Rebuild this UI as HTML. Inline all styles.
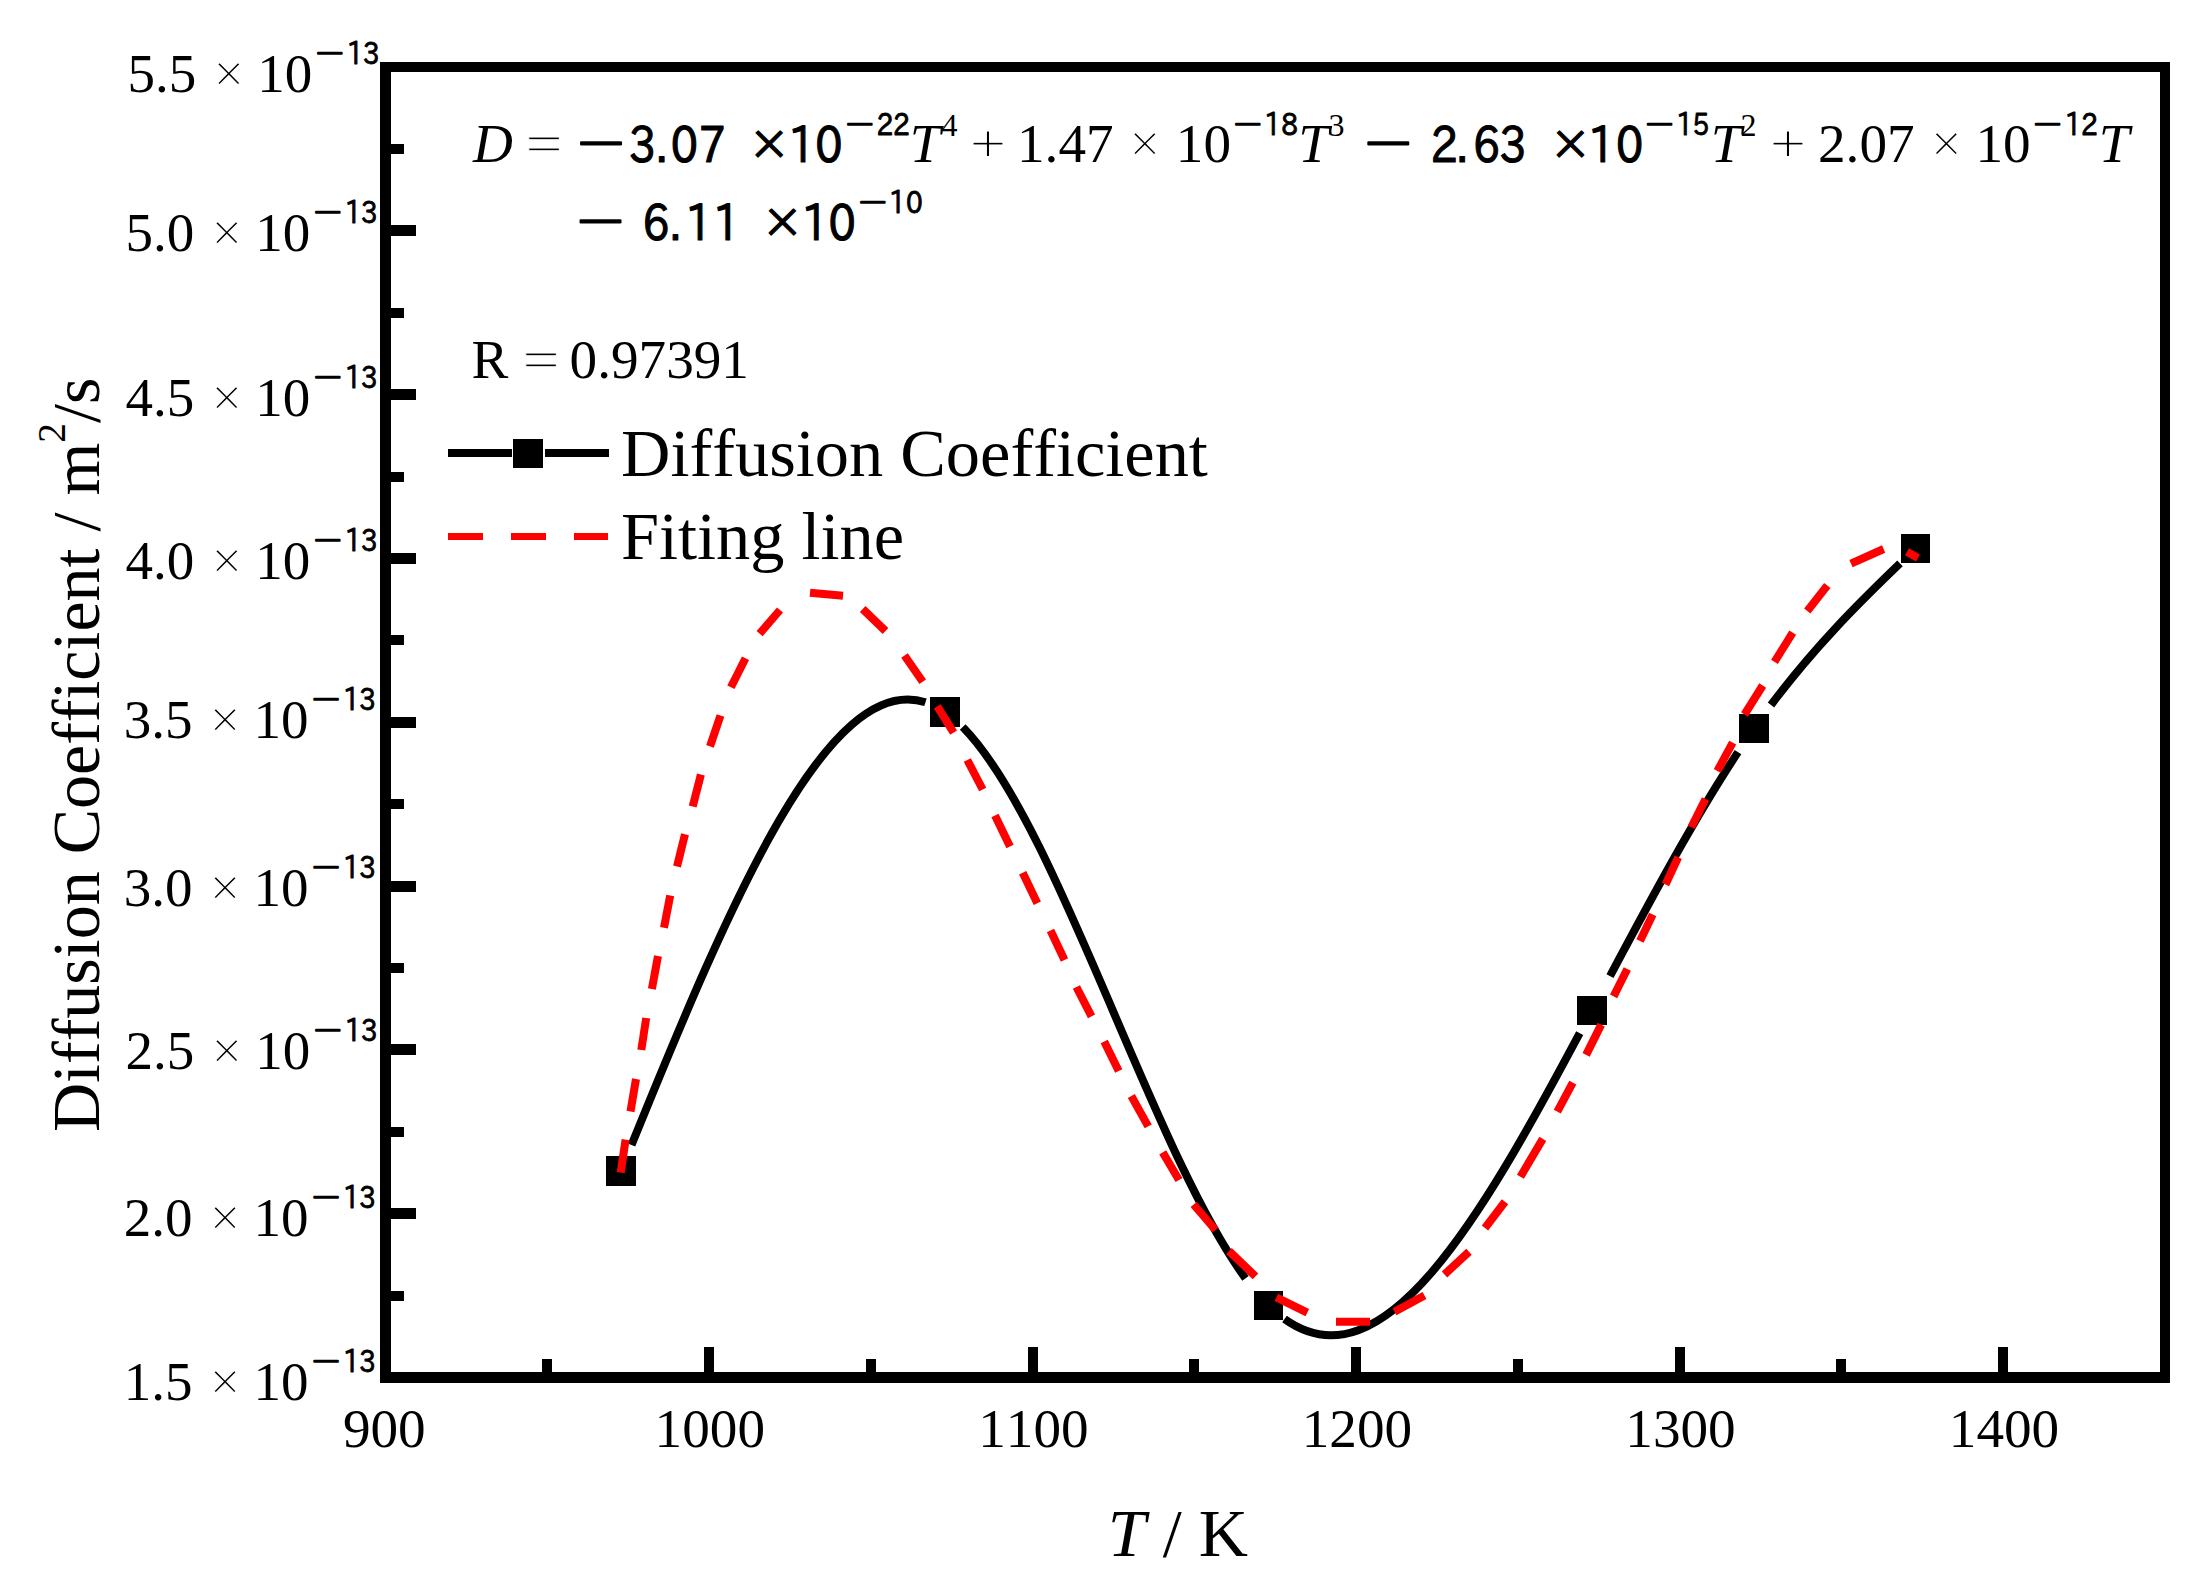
<!DOCTYPE html>
<html lang="en"><head><meta charset="utf-8"><title>Diffusion Coefficient vs T</title>
<style>
html,body{margin:0;padding:0;background:#fff;}
svg{display:block;}
text{white-space:pre;font-variant-ligatures:none;font-kerning:none;}
</style></head>
<body>
<svg width="2200" height="1584" viewBox="0 0 2200 1584">
<rect width="2200" height="1584" fill="#fff"/>
<g fill="#000" shape-rendering="crispEdges">
<rect x="380" y="62" width="1790" height="10"/>
<rect x="380" y="1372" width="1790" height="11"/>
<rect x="380" y="62" width="11" height="1321"/>
<rect x="2160" y="62" width="10" height="1321"/>
<rect x="391" y="1291" width="13" height="10"/>
<rect x="391" y="1208" width="25" height="11"/>
<rect x="391" y="1127" width="13" height="10"/>
<rect x="391" y="1044" width="25" height="11"/>
<rect x="391" y="963" width="13" height="10"/>
<rect x="391" y="881" width="25" height="11"/>
<rect x="391" y="799" width="13" height="10"/>
<rect x="391" y="717" width="25" height="11"/>
<rect x="391" y="635" width="13" height="10"/>
<rect x="391" y="553" width="25" height="11"/>
<rect x="391" y="472" width="13" height="10"/>
<rect x="391" y="389" width="25" height="11"/>
<rect x="391" y="308" width="13" height="10"/>
<rect x="391" y="225" width="25" height="11"/>
<rect x="391" y="144" width="13" height="10"/>
<rect x="542" y="1359" width="10" height="13"/>
<rect x="704" y="1347" width="10" height="25"/>
<rect x="866" y="1359" width="10" height="13"/>
<rect x="1028" y="1347" width="10" height="25"/>
<rect x="1189" y="1359" width="10" height="13"/>
<rect x="1351" y="1347" width="10" height="25"/>
<rect x="1513" y="1359" width="10" height="13"/>
<rect x="1675" y="1347" width="10" height="25"/>
<rect x="1836" y="1359" width="10" height="13"/>
<rect x="1998" y="1347" width="10" height="25"/>
</g>
<g fill="none" stroke="#000" stroke-width="8" stroke-linecap="butt">
<path d="M631.5,1145.1 C729.5,903.7 827.5,671.3 925.5,702.3"/>
<path d="M962.7,727.0 C1057.0,822.3 1151.2,1149.7 1245.5,1278.3"/>
<path d="M1284.5,1319.1 C1382.9,1389.7 1481.3,1217.8 1579.7,1033.1"/>
<path d="M1610.0,976.1 C1652.7,895.8 1695.3,816.8 1738.0,752.1"/>
<path d="M1771.0,705.0 C1814.0,647.6 1857.0,604.7 1900.0,563.4"/>
</g>
<g fill="#000" shape-rendering="crispEdges">
<rect x="606" y="1156" width="30" height="30"/>
<rect x="930" y="697" width="30" height="30"/>
<rect x="1254" y="1291" width="29" height="29"/>
<rect x="1577" y="996" width="30" height="29"/>
<rect x="1739" y="714" width="30" height="29"/>
<rect x="1901" y="534" width="29" height="29"/>
</g>
<g stroke="#f00" stroke-width="8" fill="none">
<path d="M620.7,1172.7 L625.6,1139.7"/>
<path d="M630.5,1111.5 L636.0,1079.0"/>
<path d="M641.3,1050.0 L646.2,1018.0"/>
<path d="M651.9,989.0 L658.0,956.0"/>
<path d="M664.0,927.8 L670.2,895.4"/>
<path d="M677.0,866.5 L685.0,834.2"/>
<path d="M692.7,806.4 L700.9,774.5"/>
<path d="M710.0,746.4 L720.5,715.5"/>
<path d="M730.9,687.3 L745.5,658.2"/>
<path d="M759.6,633.6 L780.0,610.0"/>
<path d="M810.0,592.7 L843.0,595.8"/>
<path d="M862.7,609.0 L885.5,631.0"/>
<path d="M904.5,655.5 L922.7,681.8"/>
<path d="M937.3,706.4 L953.6,732.7"/>
<path d="M967.3,760.0 L982.7,789.5"/>
<path d="M995.0,815.5 L1010.0,846.4"/>
<path d="M1022.7,872.7 L1037.3,903.3"/>
<path d="M1050.5,930.5 L1064.5,960.0"/>
<path d="M1076.4,987.0 L1091.5,1016.4"/>
<path d="M1104.2,1041.5 L1118.7,1071.0"/>
<path d="M1131.3,1096.0 L1148.2,1126.4"/>
<path d="M1162.7,1152.4 L1179.0,1180.0"/>
<path d="M1193.6,1204.5 L1215.5,1230.0"/>
<path d="M1229.0,1251.0 L1255.5,1276.4"/>
<path d="M1276.4,1297.3 L1307.3,1312.7"/>
<path d="M1336.0,1321.8 L1370.0,1321.8"/>
<path d="M1394.5,1311.8 L1424.5,1295.5"/>
<path d="M1444.5,1274.5 L1469.0,1251.8"/>
<path d="M1485.0,1228.0 L1505.0,1201.8"/>
<path d="M1520.4,1176.8 L1542.8,1138.9"/>
<path d="M1557.3,1111.7 L1572.8,1082.7"/>
<path d="M1586.1,1054.9 L1601.2,1024.6"/>
<path d="M1613.6,996.4 L1627.3,969.0"/>
<path d="M1640.0,941.0 L1652.7,914.5"/>
<path d="M1665.5,884.5 L1678.2,857.3"/>
<path d="M1691.3,827.3 L1705.5,799.0"/>
<path d="M1717.3,771.0 L1732.7,742.7"/>
<path d="M1744.5,714.5 L1762.7,685.5"/>
<path d="M1774.5,661.8 L1792.7,632.7"/>
<path d="M1807.3,611.0 L1827.3,585.5"/>
<path d="M1851.0,563.6 L1883.6,549.0"/>
<path d="M1907.0,551.8 L1918.0,558.0"/>
</g>
<g shape-rendering="crispEdges">
<rect x="448" y="449" width="64" height="8" fill="#000"/>
<rect x="545" y="449" width="64" height="8" fill="#000"/>
<rect x="513" y="439" width="30" height="29" fill="#000"/>
<rect x="448" y="533" width="35" height="7" fill="#f00"/>
<rect x="511" y="533" width="35" height="7" fill="#f00"/>
<rect x="574" y="533" width="34" height="7" fill="#f00"/>
</g>
<g font-family="'Liberation Serif', 'Times New Roman', serif" fill="#000">
<text x="621" y="475.5" font-size="68.4">Diffusion Coefficient</text>
<text x="621" y="558.5" font-size="68.4">Fiting line</text>
<text x="471.6" y="377.5" font-size="55.2">R</text>
<text transform="translate(540.9,377.5) scale(1.19,1)" text-anchor="middle" font-size="55.2" stroke="#fff" stroke-width="0.8">=</text>
<text x="569.6" y="377.5" font-size="55.2">0.97391</text>
<text x="384.3" y="1446.8" font-size="55.2" text-anchor="middle">900</text>
<text x="709.8" y="1446.8" font-size="55.2" text-anchor="middle">1000</text>
<text x="1033.4" y="1446.8" font-size="55.2" text-anchor="middle">1100</text>
<text x="1356.9" y="1446.8" font-size="55.2" text-anchor="middle">1200</text>
<text x="1680.5" y="1446.8" font-size="55.2" text-anchor="middle">1300</text>
<text x="2004.0" y="1446.8" font-size="55.2" text-anchor="middle">1400</text>
<text x="1107.7" y="1556" font-size="68.2"><tspan font-style="italic">T</tspan> / K</text>
<text transform="translate(99.2,1132) rotate(-90)" font-size="68">Diffusion Coefficient / m<tspan font-size="39.5" dy="-34.4">2</tspan><tspan dy="34.4">/s</tspan></text>
<text x="127.6" y="92.1" font-size="55">5.5</text>
<text x="213.2" y="92.1" font-size="55" stroke="#fff" stroke-width="1.2">×</text>
<text x="257.2" y="92.1" font-size="55">10</text>
<text x="125.6" y="250.6" font-size="55">5.0</text>
<text x="211.2" y="250.6" font-size="55" stroke="#fff" stroke-width="1.2">×</text>
<text x="255.2" y="250.6" font-size="55">10</text>
<text x="125.6" y="415.7" font-size="55">4.5</text>
<text x="211.2" y="415.7" font-size="55" stroke="#fff" stroke-width="1.2">×</text>
<text x="255.2" y="415.7" font-size="55">10</text>
<text x="125.6" y="578.7" font-size="55">4.0</text>
<text x="211.2" y="578.7" font-size="55" stroke="#fff" stroke-width="1.2">×</text>
<text x="255.2" y="578.7" font-size="55">10</text>
<text x="123.8" y="737.9" font-size="55">3.5</text>
<text x="209.4" y="737.9" font-size="55" stroke="#fff" stroke-width="1.2">×</text>
<text x="253.4" y="737.9" font-size="55">10</text>
<text x="123.8" y="906.0" font-size="55">3.0</text>
<text x="209.4" y="906.0" font-size="55" stroke="#fff" stroke-width="1.2">×</text>
<text x="253.4" y="906.0" font-size="55">10</text>
<text x="125.6" y="1068.9" font-size="55">2.5</text>
<text x="211.2" y="1068.9" font-size="55" stroke="#fff" stroke-width="1.2">×</text>
<text x="255.2" y="1068.9" font-size="55">10</text>
<text x="123.8" y="1235.9" font-size="55">2.0</text>
<text x="209.4" y="1235.9" font-size="55" stroke="#fff" stroke-width="1.2">×</text>
<text x="253.4" y="1235.9" font-size="55">10</text>
<text x="123.8" y="1399.9" font-size="55">1.5</text>
<text x="209.4" y="1399.9" font-size="55" stroke="#fff" stroke-width="1.2">×</text>
<text x="253.4" y="1399.9" font-size="55">10</text>
</g>
<text font-family="'IPAPGothic', 'IPAGothic', 'Liberation Sans', sans-serif" font-size="30" text-anchor="middle" stroke="#000" stroke-width="1.4" stroke-linejoin="round" transform="scale(1.51,1)" y="63.5" x="218.5">−</text>
<text font-family="'IPAPGothic', 'IPAGothic', 'Liberation Sans', sans-serif" font-size="30" text-anchor="middle" stroke="#000" stroke-width="0.9" stroke-linejoin="round" transform="scale(0.885,1)" y="64.5" x="401.4 419.7">13</text>
<text font-family="'IPAPGothic', 'IPAGothic', 'Liberation Sans', sans-serif" font-size="30" text-anchor="middle" stroke="#000" stroke-width="1.4" stroke-linejoin="round" transform="scale(1.51,1)" y="222.0" x="217.2">−</text>
<text font-family="'IPAPGothic', 'IPAGothic', 'Liberation Sans', sans-serif" font-size="30" text-anchor="middle" stroke="#000" stroke-width="0.9" stroke-linejoin="round" transform="scale(0.885,1)" y="223.0" x="399.1 417.4">13</text>
<text font-family="'IPAPGothic', 'IPAGothic', 'Liberation Sans', sans-serif" font-size="30" text-anchor="middle" stroke="#000" stroke-width="1.4" stroke-linejoin="round" transform="scale(1.51,1)" y="387.1" x="217.2">−</text>
<text font-family="'IPAPGothic', 'IPAGothic', 'Liberation Sans', sans-serif" font-size="30" text-anchor="middle" stroke="#000" stroke-width="0.9" stroke-linejoin="round" transform="scale(0.885,1)" y="388.1" x="399.1 417.4">13</text>
<text font-family="'IPAPGothic', 'IPAGothic', 'Liberation Sans', sans-serif" font-size="30" text-anchor="middle" stroke="#000" stroke-width="1.4" stroke-linejoin="round" transform="scale(1.51,1)" y="550.1" x="217.2">−</text>
<text font-family="'IPAPGothic', 'IPAGothic', 'Liberation Sans', sans-serif" font-size="30" text-anchor="middle" stroke="#000" stroke-width="0.9" stroke-linejoin="round" transform="scale(0.885,1)" y="551.1" x="399.1 417.4">13</text>
<text font-family="'IPAPGothic', 'IPAGothic', 'Liberation Sans', sans-serif" font-size="30" text-anchor="middle" stroke="#000" stroke-width="1.4" stroke-linejoin="round" transform="scale(1.51,1)" y="709.3" x="216.0">−</text>
<text font-family="'IPAPGothic', 'IPAGothic', 'Liberation Sans', sans-serif" font-size="30" text-anchor="middle" stroke="#000" stroke-width="0.9" stroke-linejoin="round" transform="scale(0.885,1)" y="710.3" x="397.1 415.4">13</text>
<text font-family="'IPAPGothic', 'IPAGothic', 'Liberation Sans', sans-serif" font-size="30" text-anchor="middle" stroke="#000" stroke-width="1.4" stroke-linejoin="round" transform="scale(1.51,1)" y="877.4" x="216.0">−</text>
<text font-family="'IPAPGothic', 'IPAGothic', 'Liberation Sans', sans-serif" font-size="30" text-anchor="middle" stroke="#000" stroke-width="0.9" stroke-linejoin="round" transform="scale(0.885,1)" y="878.4" x="397.1 415.4">13</text>
<text font-family="'IPAPGothic', 'IPAGothic', 'Liberation Sans', sans-serif" font-size="30" text-anchor="middle" stroke="#000" stroke-width="1.4" stroke-linejoin="round" transform="scale(1.51,1)" y="1040.3" x="217.2">−</text>
<text font-family="'IPAPGothic', 'IPAGothic', 'Liberation Sans', sans-serif" font-size="30" text-anchor="middle" stroke="#000" stroke-width="0.9" stroke-linejoin="round" transform="scale(0.885,1)" y="1041.3" x="399.1 417.4">13</text>
<text font-family="'IPAPGothic', 'IPAGothic', 'Liberation Sans', sans-serif" font-size="30" text-anchor="middle" stroke="#000" stroke-width="1.4" stroke-linejoin="round" transform="scale(1.51,1)" y="1207.3" x="216.0">−</text>
<text font-family="'IPAPGothic', 'IPAGothic', 'Liberation Sans', sans-serif" font-size="30" text-anchor="middle" stroke="#000" stroke-width="0.9" stroke-linejoin="round" transform="scale(0.885,1)" y="1208.3" x="397.1 415.4">13</text>
<text font-family="'IPAPGothic', 'IPAGothic', 'Liberation Sans', sans-serif" font-size="30" text-anchor="middle" stroke="#000" stroke-width="1.4" stroke-linejoin="round" transform="scale(1.51,1)" y="1371.3" x="216.0">−</text>
<text font-family="'IPAPGothic', 'IPAGothic', 'Liberation Sans', sans-serif" font-size="30" text-anchor="middle" stroke="#000" stroke-width="0.9" stroke-linejoin="round" transform="scale(0.885,1)" y="1372.3" x="397.1 415.4">13</text>
<text font-family="'Liberation Serif', 'Times New Roman', serif" font-size="55.2" font-style="italic" text-anchor="start" x="473.0" y="162.3">D</text>
<text font-family="'Liberation Serif', 'Times New Roman', serif" transform="translate(544,162.3) scale(1.19,1)" text-anchor="middle" font-size="55.2" stroke="#fff" stroke-width="0.8">=</text>
<text font-family="'IPAPGothic', 'IPAGothic', 'Liberation Sans', sans-serif" font-size="49.2" text-anchor="middle" stroke="#000" stroke-width="1.6" stroke-linejoin="round" transform="scale(1.55,1)" y="159.3" x="387.8">−</text>
<text font-family="'IPAPGothic', 'IPAGothic', 'Liberation Sans', sans-serif" font-size="49.2" text-anchor="middle" stroke="#000" stroke-width="1.15" stroke-linejoin="round" transform="scale(0.88,1)" y="162.3" x="730.2 752.0 777.7 809.4">3.07</text>
<text font-family="'IPAPGothic', 'IPAGothic', 'Liberation Sans', sans-serif" font-size="42.5" text-anchor="middle" stroke="#000" stroke-width="1.15" stroke-linejoin="round" transform="scale(1.0,1)" y="160.3" x="769.1">×</text>
<text font-family="'IPAPGothic', 'IPAGothic', 'Liberation Sans', sans-serif" font-size="49.2" text-anchor="middle" stroke="#000" stroke-width="1.15" stroke-linejoin="round" transform="scale(0.88,1)" y="162.3" x="911.2 941.8">10</text>
<text font-family="'IPAPGothic', 'IPAGothic', 'Liberation Sans', sans-serif" font-size="30" text-anchor="middle" stroke="#000" stroke-width="1.4" stroke-linejoin="round" transform="scale(1.51,1)" y="134.3" x="569.5">−</text>
<text font-family="'IPAPGothic', 'IPAGothic', 'Liberation Sans', sans-serif" font-size="30" text-anchor="middle" stroke="#000" stroke-width="0.9" stroke-linejoin="round" transform="scale(0.885,1)" y="135.3" x="999.8 1018.5">22</text>
<text font-family="'Liberation Serif', 'Times New Roman', serif" font-size="55.2" font-style="italic" text-anchor="start" x="909.8" y="162.3">T</text>
<text font-family="'Liberation Serif', 'Times New Roman', serif" font-size="32" text-anchor="middle" x="949.5" y="136.1">4</text>
<text font-family="'Liberation Serif', 'Times New Roman', serif" transform="translate(988,162.3) scale(1.17,1)" text-anchor="middle" font-size="55.2" stroke="#fff" stroke-width="1.0">+</text>
<text font-family="'Liberation Serif', 'Times New Roman', serif" font-size="55.2" text-anchor="start" x="1017.0" y="162.3">1.47</text>
<text font-family="'Liberation Serif', 'Times New Roman', serif" font-size="55.2" stroke="#fff" stroke-width="1.2" text-anchor="middle" x="1144.9" y="162.3">×</text>
<text font-family="'Liberation Serif', 'Times New Roman', serif" font-size="55.2" text-anchor="start" x="1175.8" y="162.3">10</text>
<text font-family="'IPAPGothic', 'IPAGothic', 'Liberation Sans', sans-serif" font-size="30" text-anchor="middle" stroke="#000" stroke-width="1.4" stroke-linejoin="round" transform="scale(1.51,1)" y="134.3" x="826.5">−</text>
<text font-family="'IPAPGothic', 'IPAGothic', 'Liberation Sans', sans-serif" font-size="30" text-anchor="middle" stroke="#000" stroke-width="0.9" stroke-linejoin="round" transform="scale(0.885,1)" y="135.3" x="1437.9 1457.1">18</text>
<text font-family="'Liberation Serif', 'Times New Roman', serif" font-size="55.2" font-style="italic" text-anchor="start" x="1298.3" y="162.3">T</text>
<text font-family="'Liberation Serif', 'Times New Roman', serif" font-size="32" text-anchor="middle" x="1336.6" y="136.1">3</text>
<text font-family="'IPAPGothic', 'IPAGothic', 'Liberation Sans', sans-serif" font-size="49.2" text-anchor="middle" stroke="#000" stroke-width="1.6" stroke-linejoin="round" transform="scale(1.55,1)" y="159.3" x="895.7">−</text>
<text font-family="'IPAPGothic', 'IPAGothic', 'Liberation Sans', sans-serif" font-size="49.2" text-anchor="middle" stroke="#000" stroke-width="1.15" stroke-linejoin="round" transform="scale(0.88,1)" y="162.3" x="1641.1 1661.6 1689.1 1719.5">2.63</text>
<text font-family="'IPAPGothic', 'IPAGothic', 'Liberation Sans', sans-serif" font-size="42.5" text-anchor="middle" stroke="#000" stroke-width="1.15" stroke-linejoin="round" transform="scale(1.0,1)" y="160.3" x="1570.5">×</text>
<text font-family="'IPAPGothic', 'IPAGothic', 'Liberation Sans', sans-serif" font-size="49.2" text-anchor="middle" stroke="#000" stroke-width="1.15" stroke-linejoin="round" transform="scale(0.88,1)" y="162.3" x="1820.1 1851.9">10</text>
<text font-family="'IPAPGothic', 'IPAGothic', 'Liberation Sans', sans-serif" font-size="30" text-anchor="middle" stroke="#000" stroke-width="1.4" stroke-linejoin="round" transform="scale(1.51,1)" y="134.3" x="1099.2">−</text>
<text font-family="'IPAPGothic', 'IPAGothic', 'Liberation Sans', sans-serif" font-size="30" text-anchor="middle" stroke="#000" stroke-width="0.9" stroke-linejoin="round" transform="scale(0.885,1)" y="135.3" x="1903.4 1921.8">15</text>
<text font-family="'Liberation Serif', 'Times New Roman', serif" font-size="55.2" font-style="italic" text-anchor="start" x="1710.7" y="162.3">T</text>
<text font-family="'Liberation Serif', 'Times New Roman', serif" font-size="32" text-anchor="middle" x="1748.5" y="136.1">2</text>
<text font-family="'Liberation Serif', 'Times New Roman', serif" transform="translate(1787.9,162.3) scale(1.17,1)" text-anchor="middle" font-size="55.2" stroke="#fff" stroke-width="1.0">+</text>
<text font-family="'Liberation Serif', 'Times New Roman', serif" font-size="55.2" text-anchor="start" x="1818.0" y="162.3">2.07</text>
<text font-family="'Liberation Serif', 'Times New Roman', serif" font-size="55.2" stroke="#fff" stroke-width="1.2" text-anchor="middle" x="1946.3" y="162.3">×</text>
<text font-family="'Liberation Serif', 'Times New Roman', serif" font-size="55.2" text-anchor="start" x="1975.5" y="162.3">10</text>
<text font-family="'IPAPGothic', 'IPAGothic', 'Liberation Sans', sans-serif" font-size="30" text-anchor="middle" stroke="#000" stroke-width="1.4" stroke-linejoin="round" transform="scale(1.51,1)" y="134.3" x="1356.2">−</text>
<text font-family="'IPAPGothic', 'IPAGothic', 'Liberation Sans', sans-serif" font-size="30" text-anchor="middle" stroke="#000" stroke-width="0.9" stroke-linejoin="round" transform="scale(0.885,1)" y="135.3" x="2342.6 2361.0">12</text>
<text font-family="'Liberation Serif', 'Times New Roman', serif" font-size="55.2" font-style="italic" text-anchor="start" x="2098.7" y="162.3">T</text>
<text font-family="'IPAPGothic', 'IPAGothic', 'Liberation Sans', sans-serif" font-size="49.2" text-anchor="middle" stroke="#000" stroke-width="1.6" stroke-linejoin="round" transform="scale(1.55,1)" y="237.3" x="387.5">−</text>
<text font-family="'IPAPGothic', 'IPAGothic', 'Liberation Sans', sans-serif" font-size="49.2" text-anchor="middle" stroke="#000" stroke-width="1.15" stroke-linejoin="round" transform="scale(0.88,1)" y="240.3" x="745.3 767.6 794.3 825.8">6.11</text>
<text font-family="'IPAPGothic', 'IPAGothic', 'Liberation Sans', sans-serif" font-size="42.5" text-anchor="middle" stroke="#000" stroke-width="1.15" stroke-linejoin="round" transform="scale(1.0,1)" y="238.3" x="782.4">×</text>
<text font-family="'IPAPGothic', 'IPAGothic', 'Liberation Sans', sans-serif" font-size="49.2" text-anchor="middle" stroke="#000" stroke-width="1.15" stroke-linejoin="round" transform="scale(0.88,1)" y="240.3" x="926.4 956.9">10</text>
<text font-family="'IPAPGothic', 'IPAGothic', 'Liberation Sans', sans-serif" font-size="30" text-anchor="middle" stroke="#000" stroke-width="1.4" stroke-linejoin="round" transform="scale(1.51,1)" y="212.3" x="578.1">−</text>
<text font-family="'IPAPGothic', 'IPAGothic', 'Liberation Sans', sans-serif" font-size="30" text-anchor="middle" stroke="#000" stroke-width="0.9" stroke-linejoin="round" transform="scale(0.885,1)" y="213.3" x="1014.1 1033.3">10</text>
</svg>
</body></html>
